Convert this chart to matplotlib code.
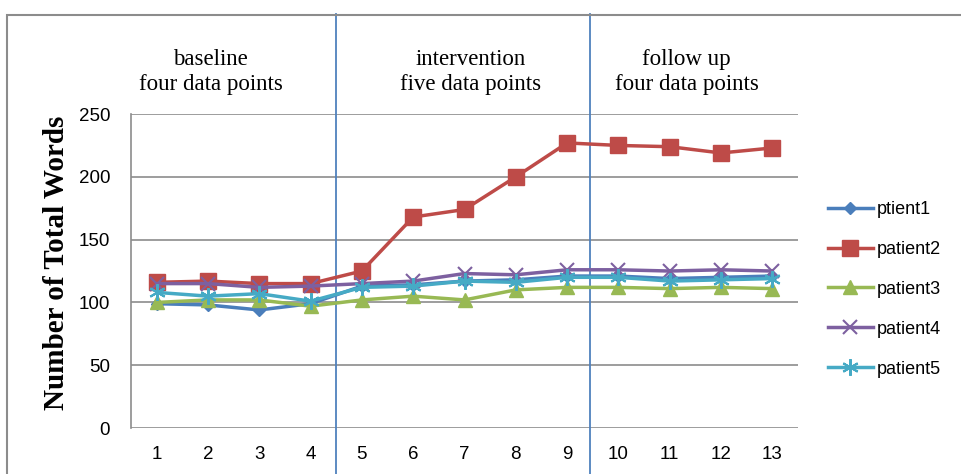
import matplotlib.pyplot as plt
from matplotlib.patches import Rectangle

# data
sessions = list(range(1, 14))
ptient1 = [99, 98, 94, 99, 113, 114, 117, 118, 121, 121, 119, 120, 121]
patient2 = [116, 117, 115, 115, 125, 168, 174, 200, 227, 225, 224, 219, 223]
patient3 = [100, 102, 102, 97, 102, 105, 102, 110, 112, 112, 111, 112, 111]
patient4 = [115, 115, 112, 113, 115, 117, 123, 122, 126, 126, 125, 126, 125]
patient5 = [108, 105, 107, 101, 112, 113, 117, 116, 120, 120, 117, 118, 119]
labels = ["ptient1", "patient2", "patient3", "patient4", "patient5"]
phases = ["baseline\nfour data points", "intervention\nfive data points", "follow up\nfour data points"]

plt.rcParams['font.family'] = ['Liberation Sans', 'DejaVu Sans']

fig = plt.figure(figsize=(9.62, 4.74), dpi=100)
ax = fig.add_axes([0.1362, 0.097, 0.6933, 0.6624])

# outer chart frame
fig.patches.append(Rectangle((7 / 962, -0.1), 1.2, 1 - 15 / 474 + 0.1,
                             transform=fig.transFigure, fill=False,
                             edgecolor="#8c8c8c", linewidth=1.5))

series = [ptient1, patient2, patient3, patient4, patient5]
colors = ["#4A7EBB", "#BE4B48", "#98B954", "#7D60A0", "#46AAC5"]
markers = ["D", "s", "^", "x", (6, 2, 0)]
msizes = [6, 11, 10, 10, 12]
for vals, lab, c, m, ms in zip(series, labels, colors, markers, msizes):
    ax.plot(sessions, vals, color=c, marker=m, markersize=ms, linewidth=2.5,
            label=lab, markeredgewidth=1.5 if m in ["x", (6, 2, 0)] else 1, zorder=3)

ax.set_xlim(0.5, 13.5)
ax.set_ylim(0, 250)
ax.set_yticks(range(0, 251, 50))
ax.set_xticks(sessions)
ax.tick_params(length=0, labelsize=13.5)
ax.tick_params(axis="y", pad=15)
ax.tick_params(axis="x", pad=13)
ax.grid(axis="y", color="#8c8c8c", linewidth=1.2)
ax.set_axisbelow(True)
for s in ["top", "right", "bottom"]:
    ax.spines[s].set_visible(False)
ax.spines["left"].set_color("#8c8c8c")
ax.spines["left"].set_linewidth(1.2)

ax.set_ylabel("Number of Total Words", family="Liberation Serif",
              fontweight="bold", fontsize=21)
ax.yaxis.set_label_coords(-0.091, 0.525)

# phase separators
for xv in [4.5, 9.45]:
    ax.axvline(xv, ymin=-0.15, ymax=1.32, clip_on=False, color="#4F81BD", linewidth=1.3)

trans = ax.get_xaxis_transform()
for xp, txt in zip([2.05, 7.12, 11.33], phases):
    ax.text(xp, 1.134, txt, transform=trans, ha="center", va="center",
            family="Liberation Serif", fontsize=16.5, linespacing=1.25)

ax.legend(loc="upper left", bbox_to_anchor=(1.02, 0.775), frameon=False,
          fontsize=13, labelspacing=1.27, handlelength=2.5, handletextpad=0.25)

plt.savefig("out.png", dpi=100)
